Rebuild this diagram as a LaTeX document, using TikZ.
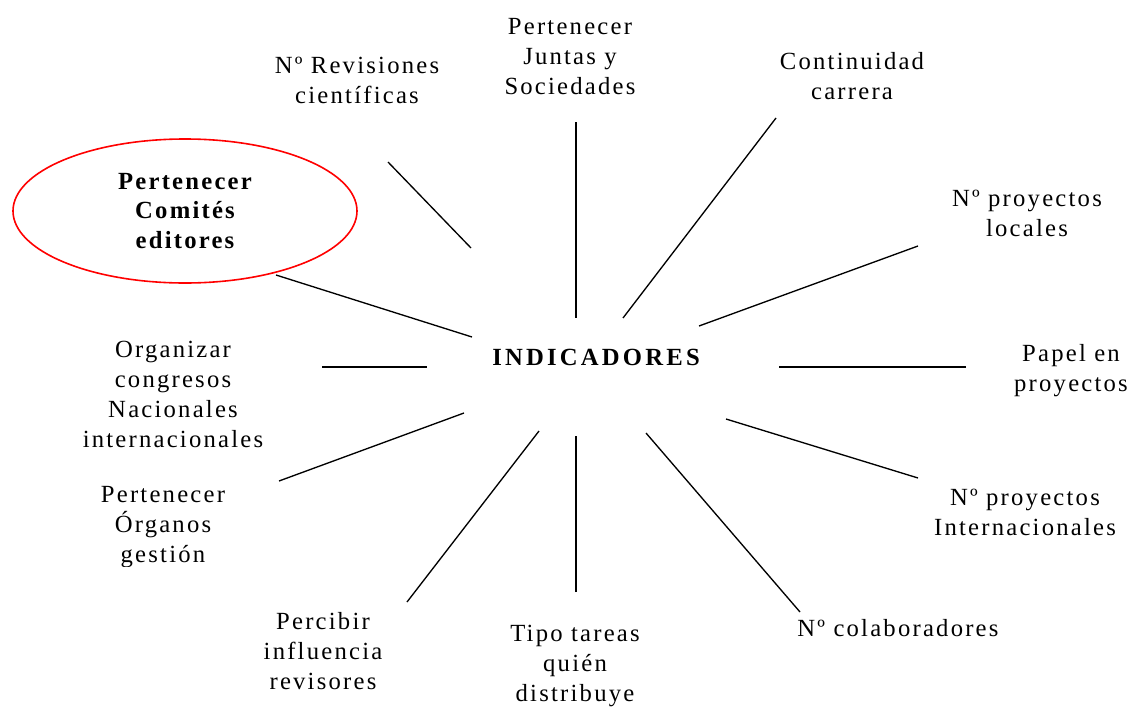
\documentclass[tikz,border=0pt]{standalone}
\usepackage{fontspec}
\setmainfont{Liberation Serif}[LetterSpace=9]
\newfontfamily\hubfont{Liberation Serif}[LetterSpace=13]
\usepackage{tikz}
\usetikzlibrary{positioning,shapes.geometric}

\begin{document}
\begin{tikzpicture}[
  x=0.75pt, y=-0.75pt,
  font=\fontsize{18.5}{22.5}\selectfont,
  item/.style={align=center, inner sep=0pt},
  hub/.style={item, font=\hubfont\fontsize{18.5}{22.5}\selectfont\bfseries},
  picked/.style={ellipse, draw=red, line width=1.2pt, minimum width=258pt,
    minimum height=108pt, align=center, inner sep=0pt,
    font=\fontsize{18.5}{22}\selectfont\bfseries},
  spoke/.style={draw=black, line width=1pt}
]
\useasboundingbox (0,0) rectangle (1136,707);

% central node and ellipse
\node[hub] (indic) at (596,357) {INDICADORES};
\node[picked] (comites) at (185,211) {Pertenecer\\Comités\\editores};

% labels round the hub
\node[item] (revis) at (357,80) {Nº Revisiones\\científicas};
\node[item] (juntas) at (570,57) {Pertenecer\\Juntas y\\Sociedades};
\node[item] (contin) at (852,76) {Continuidad\\carrera};
\node[item] (locales) at (1027,213) {Nº proyectos\\locales};
\node[item] (papel) at (1071,371) {Papel en\\proyectos};
\node[item] (internac) at (1025,512) {Nº proyectos\\Internacionales};
\node[item] (colab) at (898,628) {Nº colaboradores};
\node[item] (tareas) at (575,666) {Tipo tareas\\quién\\distribuye};
\node[item] (percibir) at (323,651) {Percibir\\influencia\\revisores};
\node[item] (congresos) at (173,394) {Organizar\\congresos\\Nacionales\\internacionales};
\begin{scope}
  \clip (0,0) rectangle (420,566);
  \node[item] (organos) at (163,527) {Pertenecer\\Órganos\\gestión};
\end{scope}

% spoke ends
\coordinate (revis-a) at (388,162);     \coordinate (revis-b) at (471,248);
\coordinate (juntas-a) at (576,122);    \coordinate (juntas-b) at (576,318);
\coordinate (contin-a) at (776,118);    \coordinate (contin-b) at (623,318);
\coordinate (locales-a) at (918,246);   \coordinate (locales-b) at (699,326);
\coordinate (papel-a) at (966,367);     \coordinate (papel-b) at (779,367);
\coordinate (internac-a) at (918,478);  \coordinate (internac-b) at (726,419);
\coordinate (colab-a) at (800,612);     \coordinate (colab-b) at (646,433);
\coordinate (tareas-a) at (576,592);    \coordinate (tareas-b) at (576,436);
\coordinate (percibir-a) at (407,602);  \coordinate (percibir-b) at (539,431);
\coordinate (organos-a) at (279,481);   \coordinate (organos-b) at (464,413);
\coordinate (congresos-a) at (322,367); \coordinate (congresos-b) at (427,367);
\coordinate (comites-a) at (276,275);   \coordinate (comites-b) at (472,337);

\foreach \s in {revis,juntas,contin,locales,papel,internac,colab,tareas,percibir,organos,congresos,comites}
  \draw[spoke] (\s-a) -- (\s-b);
\end{tikzpicture}
\end{document}
